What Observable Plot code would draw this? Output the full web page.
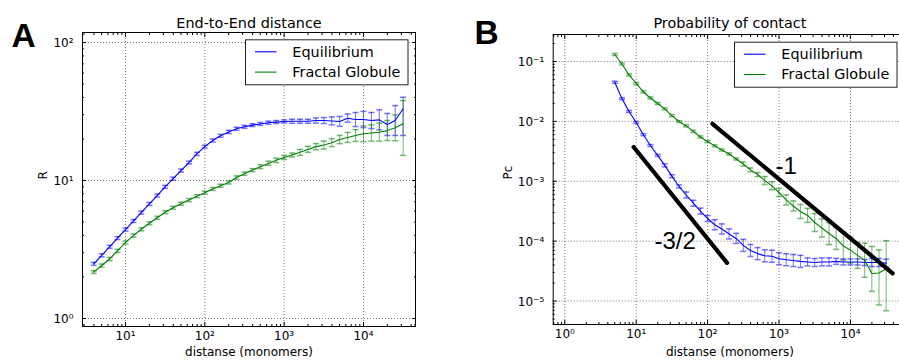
<!DOCTYPE html>
<html><head><meta charset="utf-8">
<script src="https://cdn.jsdelivr.net/npm/d3@7"></script>
<script src="https://cdn.jsdelivr.net/npm/@observablehq/plot@0.6"></script>
<style>
html,body{margin:0;padding:0;background:#fff;overflow:hidden}
#fig{position:relative;width:899px;height:360px;overflow:hidden;background:#fff}
#fig > svg{position:absolute;top:0}
</style></head><body><div id="fig"></div>
<script>
// ---------- data ----------
const seriesNames = ["Equilibrium", "Fractal Globule"];
const seriesColors = ["#0000ff", "#008000"];

// Panel A : End-to-End distance
const distA = [3.98,5.01,6.31,7.94,10,12.6,15.8,20.0,25.1,31.6,39.8,50.1,63.1,79.4,100,126,158,200,251,316,398,501,631,794,1000,1259,1585,1995,2512,3162,3981,5012,6310,7943,10000,12589,15849,19953,25119,31623];
const eqR   = [2.49,2.87,3.31,3.82,4.41,5.08,5.85,6.76,7.78,8.99,10.3,11.8,13.5,15.6,17.6,19.5,21.1,22.5,23.7,24.5,25.2,25.7,26.2,26.5,26.8,26.9,26.9,26.9,27.2,27.2,27.0,26.8,28.3,27.7,27.7,27.2,27.5,25.5,27.2,33.1];
const eqRLo = [2.43,2.80,3.23,3.73,4.30,4.96,5.71,6.60,7.59,8.77,10.05,11.5,13.2,15.2,17.2,19.0,20.6,21.9,23.1,23.9,24.6,25.1,25.6,25.9,26.1,26.0,26.0,26.0,26.1,25.9,25.3,24.7,26.5,24.6,24.2,23.8,23.3,21.2,21.2,21.2];
const eqRHi = [2.55,2.94,3.39,3.92,4.52,5.21,6.00,6.93,7.97,9.21,10.56,12.1,13.8,16.0,18.0,20.0,21.6,23.1,24.3,25.1,25.8,26.3,26.9,27.2,27.5,27.8,27.8,27.8,28.4,28.6,28.9,29.1,30.3,31.1,31.7,31.1,32.5,30.6,34.9,40.1];
const fgR   = [2.17,2.42,2.70,3.09,3.56,3.99,4.43,4.90,5.37,5.89,6.34,6.79,7.22,7.70,8.16,8.69,9.16,9.68,10.5,11.2,11.9,12.6,13.3,14.0,14.7,15.3,16.0,16.8,17.6,18.1,18.8,19.8,20.5,21.2,21.8,22.1,22.4,23.0,24.1,25.8];
const fgRLo = [2.12,2.36,2.63,3.01,3.47,3.89,4.32,4.78,5.24,5.75,6.19,6.62,7.04,7.51,7.96,8.48,8.94,9.44,10.2,10.9,11.6,12.2,12.9,13.5,14.2,14.8,15.2,16.0,16.7,16.9,17.6,18.5,18.9,19.2,19.1,19.3,19.3,19.5,19.4,15.2];
const fgRHi = [2.22,2.48,2.77,3.17,3.65,4.09,4.54,5.02,5.50,6.04,6.50,6.96,7.40,7.89,8.36,8.91,9.39,9.92,10.8,11.5,12.2,13.0,13.8,14.5,15.2,15.8,16.8,17.7,18.5,19.3,20.1,21.2,22.3,23.4,24.9,25.3,26.0,27.2,29.9,38.0];

// Panel B : Probability of contact
const distB = [5.01,6.31,7.94,10,12.6,15.8,20.0,25.1,31.6,39.8,50.1,63.1,79.4,100,126,158,200,251,316,398,501,631,794,1000,1259,1585,1995,2512,3162,3981,5012,6310,7943,10000,12589,15849,19953,25119,31623];
const eqP   = [4.5e-2,2.4e-2,1.46e-2,9.6e-3,6.0e-3,3.96e-3,2.7e-3,1.84e-3,1.22e-3,8.2e-4,5.9e-4,4.3e-4,3.17e-4,2.39e-4,1.88e-4,1.6e-4,1.32e-4,1.11e-4,8.5e-5,7.0e-5,6.2e-5,5.7e-5,5.6e-5,5.1e-5,4.9e-5,4.76e-5,4.6e-5,4.5e-5,4.4e-5,4.5e-5,4.5e-5,4.6e-5,4.5e-5,4.5e-5,4.5e-5,4.4e-5,4.4e-5,4.4e-5,4.3e-5];
const eqPLo = [4.33e-2,2.31e-2,1.41e-2,9.24e-3,5.77e-3,3.81e-3,2.60e-3,1.74e-3,1.15e-3,7.74e-4,5.26e-4,3.83e-4,2.83e-4,2.13e-4,1.55e-4,1.32e-4,1.09e-4,9.16e-5,6.75e-5,5.56e-5,4.92e-5,4.53e-5,4.45e-5,4.05e-5,3.89e-5,3.78e-5,3.65e-5,3.86e-5,3.77e-5,3.86e-5,3.86e-5,4.10e-5,4.01e-5,4.01e-5,4.01e-5,3.92e-5,3.77e-5,3.77e-5,3.69e-5];
const eqPHi = [4.68e-2,2.49e-2,1.52e-2,9.97e-3,6.23e-3,4.11e-3,2.81e-3,1.95e-3,1.29e-3,8.68e-4,6.62e-4,4.82e-4,3.56e-4,2.68e-4,2.28e-4,1.94e-4,1.60e-4,1.35e-4,1.07e-4,8.81e-5,7.81e-5,7.18e-5,7.05e-5,6.42e-5,6.17e-5,5.99e-5,5.79e-5,5.25e-5,5.13e-5,5.25e-5,5.25e-5,5.16e-5,5.05e-5,5.05e-5,5.05e-5,4.94e-5,5.13e-5,5.13e-5,5.01e-5];
const fgP   = [0.131,0.091,0.0595,0.043,0.031,0.0246,0.0199,0.0162,0.0125,9.95e-3,8.4e-3,6.8e-3,5.5e-3,4.6e-3,3.9e-3,3.33e-3,2.86e-3,2.36e-3,1.94e-3,1.55e-3,1.3e-3,1.03e-3,8.4e-4,6.5e-4,4.9e-4,3.87e-4,3.13e-4,2.69e-4,2.05e-4,1.66e-4,1.34e-4,1.11e-4,8.3e-5,7.1e-5,5.8e-5,4.8e-5,2.89e-5,2.94e-5,3.46e-5];
const fgPLo = [0.126,0.0876,0.0573,0.0414,0.0298,0.0237,0.0192,0.0156,0.0120,9.58e-3,8.08e-3,6.54e-3,5.29e-3,4.43e-3,3.75e-3,3.20e-3,2.75e-3,2.27e-3,1.80e-3,1.44e-3,1.20e-3,8.83e-4,7.20e-4,5.57e-4,4.04e-4,3.19e-4,2.39e-4,2.06e-4,1.45e-4,1.17e-4,8.78e-5,7.27e-5,4.85e-5,4.31e-5,3.52e-5,2.50e-5,1.45e-5,8.6e-6,6.9e-6];
const fgPHi = [0.136,0.0945,0.0618,0.0447,0.0322,0.0256,0.0207,0.0168,0.0130,1.03e-2,8.73e-3,7.07e-3,5.71e-3,4.78e-3,4.05e-3,3.46e-3,2.97e-3,2.45e-3,2.10e-3,1.67e-3,1.40e-3,1.20e-3,9.79e-4,7.58e-4,5.94e-4,4.69e-4,4.10e-4,3.52e-4,2.90e-4,2.35e-4,2.04e-4,1.69e-4,1.42e-4,1.17e-4,9.56e-5,9.23e-5,8.16e-5,7.11e-5,1.02e-4];

// reference power-law guide lines (panel B)
const guideSlope = ["-1", "-1", "-3/2", "-3/2"];
const guideX = [117, 39000, 9.2, 187];
const guideY = [9.1e-3, 2.9e-5, 3.73e-3, 4.35e-5];
const annText = ["-1", "-3/2"];
const annX = [893, 18];
const annY = [1.32e-3, 7.3e-5];

// tick values
const xMajorA = [10, 100, 1000, 10000];
const yMajorA = [1, 10, 100];
const xMajorB = [1, 10, 100, 1000, 10000];
const yMajorB = [1e-5, 1e-4, 1e-3, 1e-2, 1e-1];

// ---------- helpers ----------
const SUP = {"-": "\u207B", "0": "\u2070", "1": "\u00B9", "2": "\u00B2", "3": "\u00B3", "4": "\u2074", "5": "\u2075", "6": "\u2076", "7": "\u2077", "8": "\u2078", "9": "\u2079"};
const pow10 = v => "10" + String(Math.round(Math.log10(v))).split("").map(c => SUP[c]).join("");
function minorTicks([a, b]) {
  const out = [];
  for (let e = Math.floor(Math.log10(a)); e <= Math.ceil(Math.log10(b)); e++)
    for (let m = 2; m <= 9; m++) { const v = m * Math.pow(10, e); if (v >= a && v <= b) out.push(v); }
  return out;
}
const capSymbol = {draw(ctx, size) { const w = Math.sqrt(size / Math.PI); ctx.moveTo(-w, 0); ctx.lineTo(w, 0); }};
function table(dist, sets) {
  const rows = [];
  sets.forEach(([name, v, lo, hi]) => dist.forEach((d, i) => rows.push({d, series: name, v: v[i], lo: lo[i], hi: hi[i]})));
  return rows;
}

function panel(o) {
  const rows = o.rows;
  const xMinor = minorTicks(o.xDomain), yMinor = minorTicks(o.yDomain);
  const gridStyle = {stroke: "#000", strokeOpacity: 0.55, strokeDasharray: "1,2"};
  const marks = [
    Plot.gridX(o.xMajor, gridStyle),
    Plot.gridY(o.yMajor, gridStyle),
    Plot.ruleX(rows, {x: "d", y1: "lo", y2: "hi", stroke: "series", strokeOpacity: 0.55}),
    Plot.dot(rows, {x: "d", y: "lo", symbol: capSymbol, r: 3, fill: "none", stroke: "series", strokeOpacity: 0.55}),
    Plot.dot(rows, {x: "d", y: "hi", symbol: capSymbol, r: 3, fill: "none", stroke: "series", strokeOpacity: 0.55}),
    Plot.line(rows, {x: "d", y: "v", z: "series", stroke: "series", strokeWidth: 1.1}),
    ...(o.extra || []),
    // ticks inside, on all four sides
    Plot.axisX(o.xMajor, {anchor: "bottom", tickSize: -4, fill: "none", label: null}),
    Plot.axisX(o.xMajor, {anchor: "top", tickSize: -4, fill: "none", label: null}),
    Plot.axisX(xMinor, {anchor: "bottom", tickSize: -2, fill: "none", label: null}),
    Plot.axisX(xMinor, {anchor: "top", tickSize: -2, fill: "none", label: null}),
    Plot.axisY(o.yMajor, {anchor: "left", tickSize: -4, fill: "none", label: null}),
    Plot.axisY(o.yMajor, {anchor: "right", tickSize: -4, fill: "none", label: null}),
    Plot.axisY(yMinor, {anchor: "left", tickSize: -2, fill: "none", label: null}),
    Plot.axisY(yMinor, {anchor: "right", tickSize: -2, fill: "none", label: null}),
    // tick labels
    Plot.axisX(o.xMajor, {anchor: "bottom", tickSize: 0, tickPadding: 5, tickFormat: pow10, label: null, fontSize: 12}),
    Plot.axisY(o.yMajor, {anchor: "left", tickSize: 0, tickPadding: 9, tickFormat: pow10, label: null, fontSize: 12, dy: 1}),
    // titles & labels
    Plot.text([o.title], {frameAnchor: "top", dy: o.titleDy, lineAnchor: "bottom", fontSize: 14.4}),
    Plot.text([o.xLabel], {frameAnchor: "bottom", dy: o.mb - 5, lineAnchor: "bottom", fontSize: 12}),
    Plot.text([o.yLabel], {frameAnchor: "left", dx: o.yLabelDx, rotate: -90, lineAnchor: "bottom", fontSize: 12}),
    Plot.frame({stroke: "#000", strokeWidth: 1})
  ];
  return Plot.plot({
    width: o.width, height: 360,
    marginLeft: o.ml, marginRight: o.mr, marginTop: o.mt, marginBottom: o.mb,
    x: {type: "log", domain: o.xDomain},
    y: {type: "log", domain: o.yDomain},
    color: {domain: seriesNames, range: seriesColors},
    style: {fontFamily: "DejaVu Sans, sans-serif", fontSize: "12px", background: "transparent", overflow: "visible", color: "#000"},
    marks
  });
}

const fig = document.getElementById("fig");

const rowsA = table(distA, [["Equilibrium", eqR, eqRLo, eqRHi], ["Fractal Globule", fgR, fgRLo, fgRHi]]);
const svgA = panel({
  rows: rowsA, width: 450, ml: 82, mr: 35, mt: 32, mb: 34,
  xDomain: [2.87, 45300], yDomain: [0.875, 118.2],
  xMajor: xMajorA, yMajor: yMajorA,
  title: "End-to-End distance", titleDy: -5, xLabel: "distanse (monomers)", yLabel: "R", yLabelDx: -36
});
svgA.style.left = "0px";
fig.appendChild(svgA);

const rowsB = table(distB, [["Equilibrium", eqP, eqPLo, eqPHi], ["Fractal Globule", fgP, fgPLo, fgPHi]]);
const guides = guideX.map((x, i) => ({x, y: guideY[i], slope: guideSlope[i]}));
const anns = annText.map((t, i) => ({t, x: annX[i], y: annY[i]}));
const svgB = panel({
  rows: rowsB, width: 460, ml: 102.7, mr: 4, mt: 34, mb: 36,
  xDomain: [0.688, 61000], yDomain: [4.06e-6, 0.2825],
  xMajor: xMajorB, yMajor: yMajorB,
  title: "Probability of contact", titleDy: -7, xLabel: "distanse (monomers)", yLabel: "Pc", yLabelDx: -41,
  extra: [
    Plot.line(guides, {x: "x", y: "y", z: "slope", stroke: "#000", strokeWidth: 4.2}),
    Plot.text(anns, {x: "x", y: "y", text: "t", textAnchor: "start", lineAnchor: "bottom", fontSize: 24, fontFamily: "Liberation Sans, Arial, sans-serif"})
  ]
});
svgB.style.left = "450px";
fig.appendChild(svgB);

// ---------- overlay: panel letters and legends ----------
const ov = d3.select(fig).append("svg").attr("width", 899).attr("height", 360).style("left", "0px").style("pointer-events", "none");
ov.append("text").attr("x", 11.5).attr("y", 46.5).text("A")
  .attr("font-family", "Liberation Sans, Arial, sans-serif").attr("font-weight", "bold").attr("font-size", 33.5);
ov.append("text").attr("x", 474.5).attr("y", 44.2).text("B")
  .attr("font-family", "Liberation Sans, Arial, sans-serif").attr("font-weight", "bold").attr("font-size", 33.5);

function legend(x0, y0) {
  const g = ov.append("g").attr("transform", `translate(${x0},${y0})`);
  g.append("rect").attr("x", 0.5).attr("y", 0.5).attr("width", 162.5).attr("height", 45)
    .attr("fill", "#fff").attr("stroke", "#222").attr("stroke-width", 1);
  seriesNames.forEach((name, i) => {
    const cy = 12.5 + i * 20.3;
    g.append("line").attr("x1", 10).attr("x2", 31.5).attr("y1", cy).attr("y2", cy)
      .attr("stroke", seriesColors[i]).attr("stroke-width", 1.1);
    g.append("text").attr("x", 47.3).attr("y", cy + 4.8).text(name)
      .attr("font-family", "DejaVu Sans, sans-serif").attr("font-size", 14.4).attr("fill", "#000");
  });
}
legend(245, 39.3);
legend(734, 41.7);
</script>
</body></html>
